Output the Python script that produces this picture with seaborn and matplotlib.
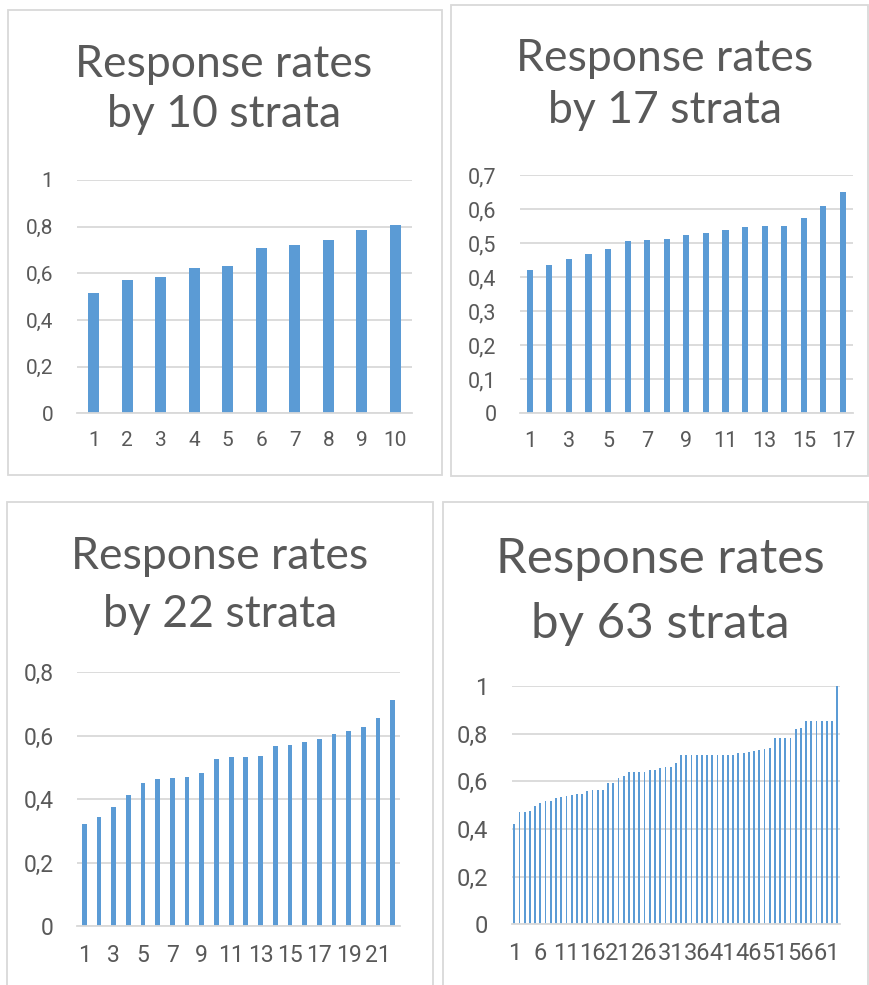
import numpy as np
import matplotlib.pyplot as plt
import seaborn as sns
from matplotlib.patches import Rectangle

# response rates
rates_10 = [0.514, 0.570, 0.583, 0.624, 0.630, 0.710, 0.723, 0.743, 0.784, 0.807]
rates_17 = [0.421, 0.436, 0.453, 0.468, 0.482, 0.506, 0.508, 0.511, 0.524,
            0.530, 0.539, 0.547, 0.549, 0.550, 0.575, 0.609, 0.650]
rates_22 = [0.322, 0.343, 0.376, 0.413, 0.451, 0.464, 0.466, 0.471, 0.482, 0.528, 0.532,
            0.534, 0.536, 0.567, 0.572, 0.581, 0.591, 0.607, 0.615, 0.629, 0.655, 0.714]
rates_63 = [0.422, 0.471, 0.471, 0.476, 0.497, 0.508, 0.519, 0.519, 0.530, 0.536,
            0.538, 0.543, 0.545, 0.548, 0.559, 0.565, 0.565, 0.565, 0.592, 0.594,
            0.613, 0.624, 0.638, 0.638, 0.638, 0.638, 0.646, 0.648, 0.655, 0.662,
            0.662, 0.678, 0.712, 0.712, 0.712, 0.712, 0.712, 0.712, 0.712, 0.712,
            0.712, 0.712, 0.712, 0.717, 0.717, 0.723, 0.729, 0.731, 0.734, 0.740,
            0.782, 0.782, 0.782, 0.782, 0.818, 0.824, 0.852, 0.852, 0.852, 0.852,
            0.852, 0.852, 1.000]

strata_10 = [str(i) for i in range(1, 11)]
strata_17 = [str(i) for i in range(1, 18)]
strata_22 = [str(i) for i in range(1, 23)]
strata_63 = [str(i) for i in range(1, 64)]

titles = ["Response rates\nby 10 strata", "Response rates\nby 17 strata",
          "Response rates\nby 22 strata", "Response rates\nby 63 strata"]

yticks_10 = [0, 0.2, 0.4, 0.6, 0.8, 1]
yticks_17 = [0, 0.1, 0.2, 0.3, 0.4, 0.5, 0.6, 0.7]
yticks_22 = [0, 0.2, 0.4, 0.6, 0.8]
yticks_63 = [0, 0.2, 0.4, 0.6, 0.8, 1]

BLUE = "#5B9BD5"
GRID = "#D9D9D9"
TEXT = "#595959"

sns.set_style("white")
plt.rcParams["font.family"] = ["Lato", "DejaVu Sans"]

W, H = 870, 985
fig = plt.figure(figsize=(W / 100, H / 100), dpi=100)


def frac(x0, y0, x1, y1):
    # pixel box (top-left origin) -> figure fraction rect
    return [x0 / W, 1 - y1 / H, (x1 - x0) / W, (y1 - y0) / H]


def fmt(v):
    return ("%g" % v).replace(".", ",")


panels = [
    # frame = chart box, area = plot area, both in pixels
    dict(frame=(8, 10, 442, 475), area=(77, 180, 412, 413.3), rates=rates_10, cats=strata_10,
         yticks=yticks_10, step=1, width=0.33, title=titles[0], tx=224, ty=(77, 127),
         tsize=32, lsize=15),
    dict(frame=(451, 5, 868, 476), area=(520, 175, 852.7, 413.3), rates=rates_17, cats=strata_17,
         yticks=yticks_17, step=2, width=0.31, title=titles[1], tx=665, ty=(71, 123),
         tsize=32, lsize=15.5),
    dict(frame=(7, 502, 433, 992), area=(77, 672.3, 400, 926.3), rates=rates_22, cats=strata_22,
         yticks=yticks_22, step=2, width=0.32, title=titles[2], tx=220, ty=(569, 627),
         tsize=32, lsize=16.5),
    dict(frame=(443, 502, 868, 992), area=(511.7, 686, 840, 924.3), rates=rates_63, cats=strata_63,
         yticks=yticks_63, step=5, width=0.35, title=titles[3], tx=660, ty=(573, 638),
         tsize=35.5, lsize=17),
]

for p in panels:
    x0, y0, x1, y1 = p["frame"]
    fig.patches.append(Rectangle((x0 / W, 1 - y1 / H), (x1 - x0) / W, (y1 - y0) / H,
                                 transform=fig.transFigure, facecolor="none",
                                 edgecolor=GRID, linewidth=1.3, zorder=-1))

    for line, ty in zip(p["title"].split("\n"), p["ty"]):
        fig.text(p["tx"] / W, 1 - ty / H, line, ha="center", va="baseline",
                 fontsize=p["tsize"], color=TEXT)

    ax = fig.add_axes(frac(*p["area"]))
    ax.set_facecolor("none")
    sns.barplot(x=p["cats"], y=p["rates"], color=BLUE, saturation=1,
                width=p["width"], linewidth=0, ax=ax)

    n = len(p["cats"])
    ax.set_xlim(-0.5, n - 0.5)
    ax.set_ylim(0, p["yticks"][-1])
    ax.set_yticks(p["yticks"])
    ax.set_yticklabels([fmt(v) for v in p["yticks"]])
    pos = list(range(0, n, p["step"]))
    ax.set_xticks(pos)
    ax.set_xticklabels([p["cats"][i] for i in pos])

    ax.yaxis.grid(True, color=GRID, linewidth=1.3)
    ax.set_axisbelow(True)
    for side in ["left", "top", "right"]:
        ax.spines[side].set_visible(False)
    ax.spines["bottom"].set_color(GRID)
    ax.spines["bottom"].set_linewidth(1.3)
    ax.tick_params(axis="both", length=0, labelcolor=TEXT)
    ax.tick_params(axis="y", pad=17)
    ax.tick_params(axis="x", pad=13)
    for lab in ax.get_xticklabels() + ax.get_yticklabels():
        lab.set_fontfamily(["Roboto", "DejaVu Sans"])
        lab.set_fontsize(p["lsize"])
    ax.set_xlabel("")
    ax.set_ylabel("")

fig.savefig("out.png", dpi=100)
